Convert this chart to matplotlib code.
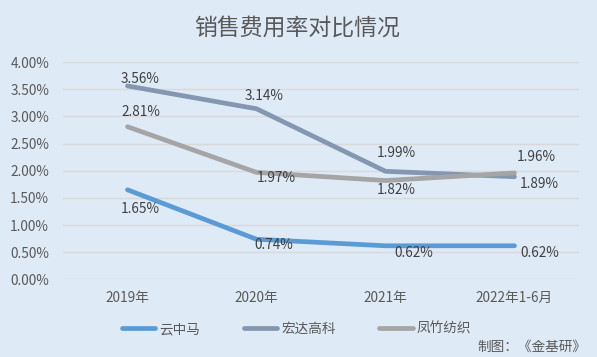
import matplotlib
matplotlib.use("Agg")
import matplotlib.pyplot as plt
from matplotlib.ticker import PercentFormatter

plt.rcParams['font.family'] = ['Noto Sans CJK SC', 'DejaVu Sans']

# data (percent)
years = ['2019年', '2020年', '2021年', '2022年1-6月']
yunzhongma = [1.65, 0.74, 0.62, 0.62]
hongda = [3.56, 3.14, 1.99, 1.89]
fengzhu = [2.81, 1.97, 1.82, 1.96]
series_names = ['云中马', '宏达高科', '凤竹纺织']

colors = ['#5B9BD5', '#8497B0', '#A5A5A5']
# label offsets in pixels (dx, dy), dy positive = up
offsets = [
    [(13, -19), (17, -6), (28, -7), (25, -7)],
    [(13, 7), (8, 13), (11, 18), (25, -7)],
    [(13, 15), (20, -6), (11, -9), (22, 16)],
]

bg = '#DEEAF6'
txt = '#595959'
fs = 9.8

fig = plt.figure(figsize=(5.97, 3.57), dpi=100, facecolor=bg)
ax = fig.add_axes([0.1055, 0.2171, 0.8643, 0.6092], facecolor=bg)

x = list(range(len(years)))
for vals, name, c, offs in zip([yunzhongma, hongda, fengzhu], series_names, colors, offsets):
    ax.plot(x, vals, color=c, lw=3.4, label=name, solid_capstyle='round', zorder=3)
    for xi, v, (dx, dy) in zip(x, vals, offs):
        ax.annotate(f'{v:.2f}%', (xi, v), xytext=(dx, dy), textcoords='offset pixels',
                    ha='center', va='center', fontsize=fs, color='#404040', zorder=4)

ax.set_xlim(-0.5, len(years) - 0.5)
ax.set_ylim(0, 4)
ax.set_yticks([i * 0.5 for i in range(9)])
ax.yaxis.set_major_formatter(PercentFormatter(decimals=2))
ax.set_xticks(x)
ax.set_xticklabels(years)
ax.tick_params(axis='both', length=0, labelsize=fs, labelcolor=txt)
ax.tick_params(axis='y', pad=10)
ax.tick_params(axis='x', pad=8)
ax.grid(axis='y', color='#D9D9D9', lw=1)
ax.set_axisbelow(True)
for s in ax.spines.values():
    s.set_visible(False)

fig.text(0.498, 1 - 28 / 357, '销售费用率对比情况', ha='center', va='center',
         fontsize=16.5, color=txt)

fig.legend(loc='center', bbox_to_anchor=(0.497, 1 - 329 / 357), ncol=3, frameon=False,
           fontsize=fs, labelcolor=txt, handlelength=2.45, handletextpad=0.3,
           columnspacing=3.2)

fig.text(0.983, 1 - 347 / 357, '制图：《金基研》', ha='right', va='center',
         fontsize=fs, color=txt)

fig.savefig('out.png', dpi=100, facecolor=bg)
